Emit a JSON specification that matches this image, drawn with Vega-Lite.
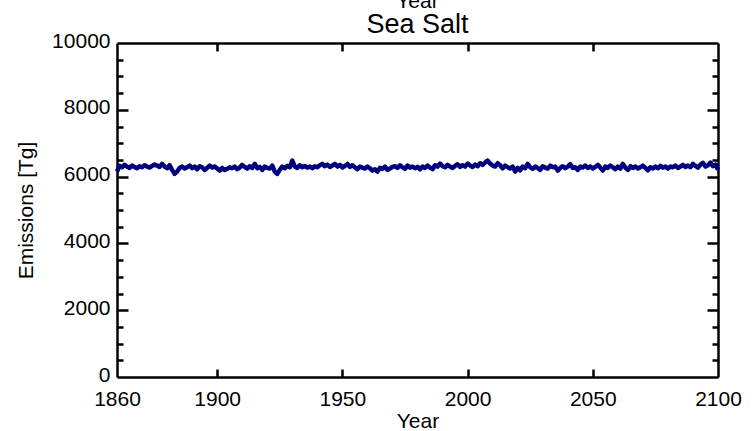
{
  "$schema": "https://vega.github.io/schema/vega-lite/v6.json",
  "width": 601,
  "height": 334,
  "autosize": {"type": "none"},
  "padding": {"left": 117, "top": 43, "right": 35, "bottom": 54},
  "background": "white",
  "config": {
    "view": {"stroke": null},
    "font": "Liberation Sans",
    "axis": {"labelColor": "black", "titleColor": "black", "titleFontWeight": "normal", "labelFontSize": 21, "titleFontSize": 21, "labelFont": "Liberation Sans", "titleFont": "Liberation Sans", "grid": false, "domainColor": "black", "domainWidth": 2.5, "tickColor": "black", "tickWidth": 2.5, "labelOverlap": false, "labelBound": false, "labelFlush": false}
  },
  "title": {"text": "Year", "subtitle": "Sea Salt", "fontSize": 21, "subtitleFontSize": 27, "font": "Liberation Sans", "subtitleFont": "Liberation Sans", "fontWeight": "normal", "color": "black", "subtitleColor": "black", "anchor": "middle", "offset": -8, "subtitlePadding": 0},
  "data": {"values": [
    {"Year":1860,"Emissions":6150},{"Year":1861,"Emissions":6320},{"Year":1862,"Emissions":6280},{"Year":1863,"Emissions":6350},{"Year":1864,"Emissions":6300},{"Year":1865,"Emissions":6260},{"Year":1866,"Emissions":6330},{"Year":1867,"Emissions":6290},{"Year":1868,"Emissions":6250},{"Year":1869,"Emissions":6310},
    {"Year":1870,"Emissions":6280},{"Year":1871,"Emissions":6340},{"Year":1872,"Emissions":6300},{"Year":1873,"Emissions":6270},{"Year":1874,"Emissions":6320},{"Year":1875,"Emissions":6360},{"Year":1876,"Emissions":6330},{"Year":1877,"Emissions":6290},{"Year":1878,"Emissions":6380},{"Year":1879,"Emissions":6300},
    {"Year":1880,"Emissions":6250},{"Year":1881,"Emissions":6340},{"Year":1882,"Emissions":6200},{"Year":1883,"Emissions":6080},{"Year":1884,"Emissions":6150},{"Year":1885,"Emissions":6260},{"Year":1886,"Emissions":6300},{"Year":1887,"Emissions":6240},{"Year":1888,"Emissions":6280},{"Year":1889,"Emissions":6330},
    {"Year":1890,"Emissions":6250},{"Year":1891,"Emissions":6300},{"Year":1892,"Emissions":6220},{"Year":1893,"Emissions":6310},{"Year":1894,"Emissions":6280},{"Year":1895,"Emissions":6200},{"Year":1896,"Emissions":6260},{"Year":1897,"Emissions":6330},{"Year":1898,"Emissions":6270},{"Year":1899,"Emissions":6300},
    {"Year":1900,"Emissions":6240},{"Year":1901,"Emissions":6180},{"Year":1902,"Emissions":6260},{"Year":1903,"Emissions":6200},{"Year":1904,"Emissions":6230},{"Year":1905,"Emissions":6280},{"Year":1906,"Emissions":6250},{"Year":1907,"Emissions":6300},{"Year":1908,"Emissions":6220},{"Year":1909,"Emissions":6270},
    {"Year":1910,"Emissions":6350},{"Year":1911,"Emissions":6290},{"Year":1912,"Emissions":6240},{"Year":1913,"Emissions":6310},{"Year":1914,"Emissions":6260},{"Year":1915,"Emissions":6380},{"Year":1916,"Emissions":6250},{"Year":1917,"Emissions":6290},{"Year":1918,"Emissions":6200},{"Year":1919,"Emissions":6300},
    {"Year":1920,"Emissions":6260},{"Year":1921,"Emissions":6240},{"Year":1922,"Emissions":6330},{"Year":1923,"Emissions":6150},{"Year":1924,"Emissions":6080},{"Year":1925,"Emissions":6200},{"Year":1926,"Emissions":6300},{"Year":1927,"Emissions":6250},{"Year":1928,"Emissions":6320},{"Year":1929,"Emissions":6280},
    {"Year":1930,"Emissions":6480},{"Year":1931,"Emissions":6300},{"Year":1932,"Emissions":6260},{"Year":1933,"Emissions":6340},{"Year":1934,"Emissions":6280},{"Year":1935,"Emissions":6320},{"Year":1936,"Emissions":6270},{"Year":1937,"Emissions":6300},{"Year":1938,"Emissions":6250},{"Year":1939,"Emissions":6310},
    {"Year":1940,"Emissions":6280},{"Year":1941,"Emissions":6340},{"Year":1942,"Emissions":6380},{"Year":1943,"Emissions":6310},{"Year":1944,"Emissions":6360},{"Year":1945,"Emissions":6290},{"Year":1946,"Emissions":6330},{"Year":1947,"Emissions":6380},{"Year":1948,"Emissions":6300},{"Year":1949,"Emissions":6350},
    {"Year":1950,"Emissions":6270},{"Year":1951,"Emissions":6320},{"Year":1952,"Emissions":6380},{"Year":1953,"Emissions":6290},{"Year":1954,"Emissions":6340},{"Year":1955,"Emissions":6280},{"Year":1956,"Emissions":6220},{"Year":1957,"Emissions":6300},{"Year":1958,"Emissions":6270},{"Year":1959,"Emissions":6240},
    {"Year":1960,"Emissions":6300},{"Year":1961,"Emissions":6250},{"Year":1962,"Emissions":6180},{"Year":1963,"Emissions":6220},{"Year":1964,"Emissions":6150},{"Year":1965,"Emissions":6260},{"Year":1966,"Emissions":6230},{"Year":1967,"Emissions":6300},{"Year":1968,"Emissions":6200},{"Year":1969,"Emissions":6240},
    {"Year":1970,"Emissions":6290},{"Year":1971,"Emissions":6310},{"Year":1972,"Emissions":6260},{"Year":1973,"Emissions":6340},{"Year":1974,"Emissions":6280},{"Year":1975,"Emissions":6230},{"Year":1976,"Emissions":6330},{"Year":1977,"Emissions":6270},{"Year":1978,"Emissions":6300},{"Year":1979,"Emissions":6250},
    {"Year":1980,"Emissions":6290},{"Year":1981,"Emissions":6220},{"Year":1982,"Emissions":6300},{"Year":1983,"Emissions":6260},{"Year":1984,"Emissions":6330},{"Year":1985,"Emissions":6270},{"Year":1986,"Emissions":6220},{"Year":1987,"Emissions":6340},{"Year":1988,"Emissions":6300},{"Year":1989,"Emissions":6390},
    {"Year":1990,"Emissions":6310},{"Year":1991,"Emissions":6280},{"Year":1992,"Emissions":6350},{"Year":1993,"Emissions":6300},{"Year":1994,"Emissions":6260},{"Year":1995,"Emissions":6320},{"Year":1996,"Emissions":6370},{"Year":1997,"Emissions":6290},{"Year":1998,"Emissions":6340},{"Year":1999,"Emissions":6300},
    {"Year":2000,"Emissions":6390},{"Year":2001,"Emissions":6330},{"Year":2002,"Emissions":6290},{"Year":2003,"Emissions":6360},{"Year":2004,"Emissions":6310},{"Year":2005,"Emissions":6400},{"Year":2006,"Emissions":6350},{"Year":2007,"Emissions":6420},{"Year":2008,"Emissions":6480},{"Year":2009,"Emissions":6390},
    {"Year":2010,"Emissions":6330},{"Year":2011,"Emissions":6300},{"Year":2012,"Emissions":6400},{"Year":2013,"Emissions":6340},{"Year":2014,"Emissions":6250},{"Year":2015,"Emissions":6330},{"Year":2016,"Emissions":6280},{"Year":2017,"Emissions":6240},{"Year":2018,"Emissions":6300},{"Year":2019,"Emissions":6150},
    {"Year":2020,"Emissions":6260},{"Year":2021,"Emissions":6190},{"Year":2022,"Emissions":6300},{"Year":2023,"Emissions":6250},{"Year":2024,"Emissions":6380},{"Year":2025,"Emissions":6280},{"Year":2026,"Emissions":6230},{"Year":2027,"Emissions":6300},{"Year":2028,"Emissions":6260},{"Year":2029,"Emissions":6200},
    {"Year":2030,"Emissions":6310},{"Year":2031,"Emissions":6270},{"Year":2032,"Emissions":6240},{"Year":2033,"Emissions":6330},{"Year":2034,"Emissions":6280},{"Year":2035,"Emissions":6300},{"Year":2036,"Emissions":6180},{"Year":2037,"Emissions":6260},{"Year":2038,"Emissions":6310},{"Year":2039,"Emissions":6250},
    {"Year":2040,"Emissions":6300},{"Year":2041,"Emissions":6370},{"Year":2042,"Emissions":6260},{"Year":2043,"Emissions":6280},{"Year":2044,"Emissions":6200},{"Year":2045,"Emissions":6300},{"Year":2046,"Emissions":6270},{"Year":2047,"Emissions":6330},{"Year":2048,"Emissions":6260},{"Year":2049,"Emissions":6300},
    {"Year":2050,"Emissions":6240},{"Year":2051,"Emissions":6290},{"Year":2052,"Emissions":6350},{"Year":2053,"Emissions":6270},{"Year":2054,"Emissions":6180},{"Year":2055,"Emissions":6300},{"Year":2056,"Emissions":6260},{"Year":2057,"Emissions":6330},{"Year":2058,"Emissions":6280},{"Year":2059,"Emissions":6220},
    {"Year":2060,"Emissions":6300},{"Year":2061,"Emissions":6240},{"Year":2062,"Emissions":6380},{"Year":2063,"Emissions":6270},{"Year":2064,"Emissions":6200},{"Year":2065,"Emissions":6310},{"Year":2066,"Emissions":6260},{"Year":2067,"Emissions":6300},{"Year":2068,"Emissions":6240},{"Year":2069,"Emissions":6280},
    {"Year":2070,"Emissions":6330},{"Year":2071,"Emissions":6260},{"Year":2072,"Emissions":6190},{"Year":2073,"Emissions":6280},{"Year":2074,"Emissions":6240},{"Year":2075,"Emissions":6300},{"Year":2076,"Emissions":6250},{"Year":2077,"Emissions":6320},{"Year":2078,"Emissions":6270},{"Year":2079,"Emissions":6300},
    {"Year":2080,"Emissions":6240},{"Year":2081,"Emissions":6300},{"Year":2082,"Emissions":6280},{"Year":2083,"Emissions":6330},{"Year":2084,"Emissions":6260},{"Year":2085,"Emissions":6300},{"Year":2086,"Emissions":6350},{"Year":2087,"Emissions":6290},{"Year":2088,"Emissions":6330},{"Year":2089,"Emissions":6280},
    {"Year":2090,"Emissions":6380},{"Year":2091,"Emissions":6320},{"Year":2092,"Emissions":6270},{"Year":2093,"Emissions":6360},{"Year":2094,"Emissions":6410},{"Year":2095,"Emissions":6300},{"Year":2096,"Emissions":6340},{"Year":2097,"Emissions":6420},{"Year":2098,"Emissions":6310},{"Year":2099,"Emissions":6360},
    {"Year":2100,"Emissions":6200}
  ]},
  "resolve": {"axis": {"x": "independent", "y": "independent"}},
  "layer": [
    {
      "mark": {"type": "line", "color": "#00007f", "strokeWidth": 4.5, "strokeJoin": "round"},
      "encoding": {
        "x": {"field": "Year", "type": "quantitative", "scale": {"domain": [1860, 2100], "nice": false, "zero": false},
              "axis": {"orient": "bottom", "values": [1860, 1900, 1950, 2000, 2050, 2100], "format": "d", "ticks": false, "labelPadding": 11, "title": "Year", "titlePadding": 1}},
        "y": {"field": "Emissions", "type": "quantitative", "scale": {"domain": [0, 10000], "nice": false, "zero": false},
              "axis": {"orient": "left", "values": [0, 2000, 4000, 6000, 8000, 10000], "format": "d", "ticks": false, "labelPadding": 7, "labelOffset": -2, "title": "Emissions [Tg]", "titlePadding": 15}}
      }
    },
    {
      "mark": {"type": "line", "opacity": 0},
      "encoding": {
        "x": {"field": "Year", "type": "quantitative", "axis": {"orient": "top", "values": [1900, 1950, 2000, 2050], "labels": false, "tickSize": -8, "title": null}},
        "y": {"field": "Emissions", "type": "quantitative", "axis": {"orient": "right", "values": [2000, 4000, 6000, 8000], "labels": false, "tickSize": -11, "title": null}}
      }
    },
    {
      "mark": {"type": "line", "opacity": 0},
      "encoding": {
        "x": {"field": "Year", "type": "quantitative", "axis": {"orient": "bottom", "values": [1900, 1950, 2000, 2050], "labels": false, "domain": false, "tickSize": -8, "title": null}},
        "y": {"field": "Emissions", "type": "quantitative", "axis": {"orient": "left", "values": [2000, 4000, 6000, 8000], "labels": false, "domain": false, "tickSize": -11, "title": null}}
      }
    },
    {
      "mark": {"type": "line", "opacity": 0},
      "encoding": {
        "x": {"field": "Year", "type": "quantitative", "axis": null},
        "y": {"field": "Emissions", "type": "quantitative", "axis": {"orient": "left", "values": [500, 1000, 1500, 2500, 3000, 3500, 4500, 5000, 5500, 6500, 7000, 7500, 8500, 9000, 9500], "labels": false, "domain": false, "tickSize": -6, "title": null}}
      }
    },
    {
      "mark": {"type": "line", "opacity": 0},
      "encoding": {
        "x": {"field": "Year", "type": "quantitative", "axis": null},
        "y": {"field": "Emissions", "type": "quantitative", "axis": {"orient": "right", "values": [500, 1000, 1500, 2500, 3000, 3500, 4500, 5000, 5500, 6500, 7000, 7500, 8500, 9000, 9500], "labels": false, "domain": false, "tickSize": -6, "title": null}}
      }
    }
  ]
}
